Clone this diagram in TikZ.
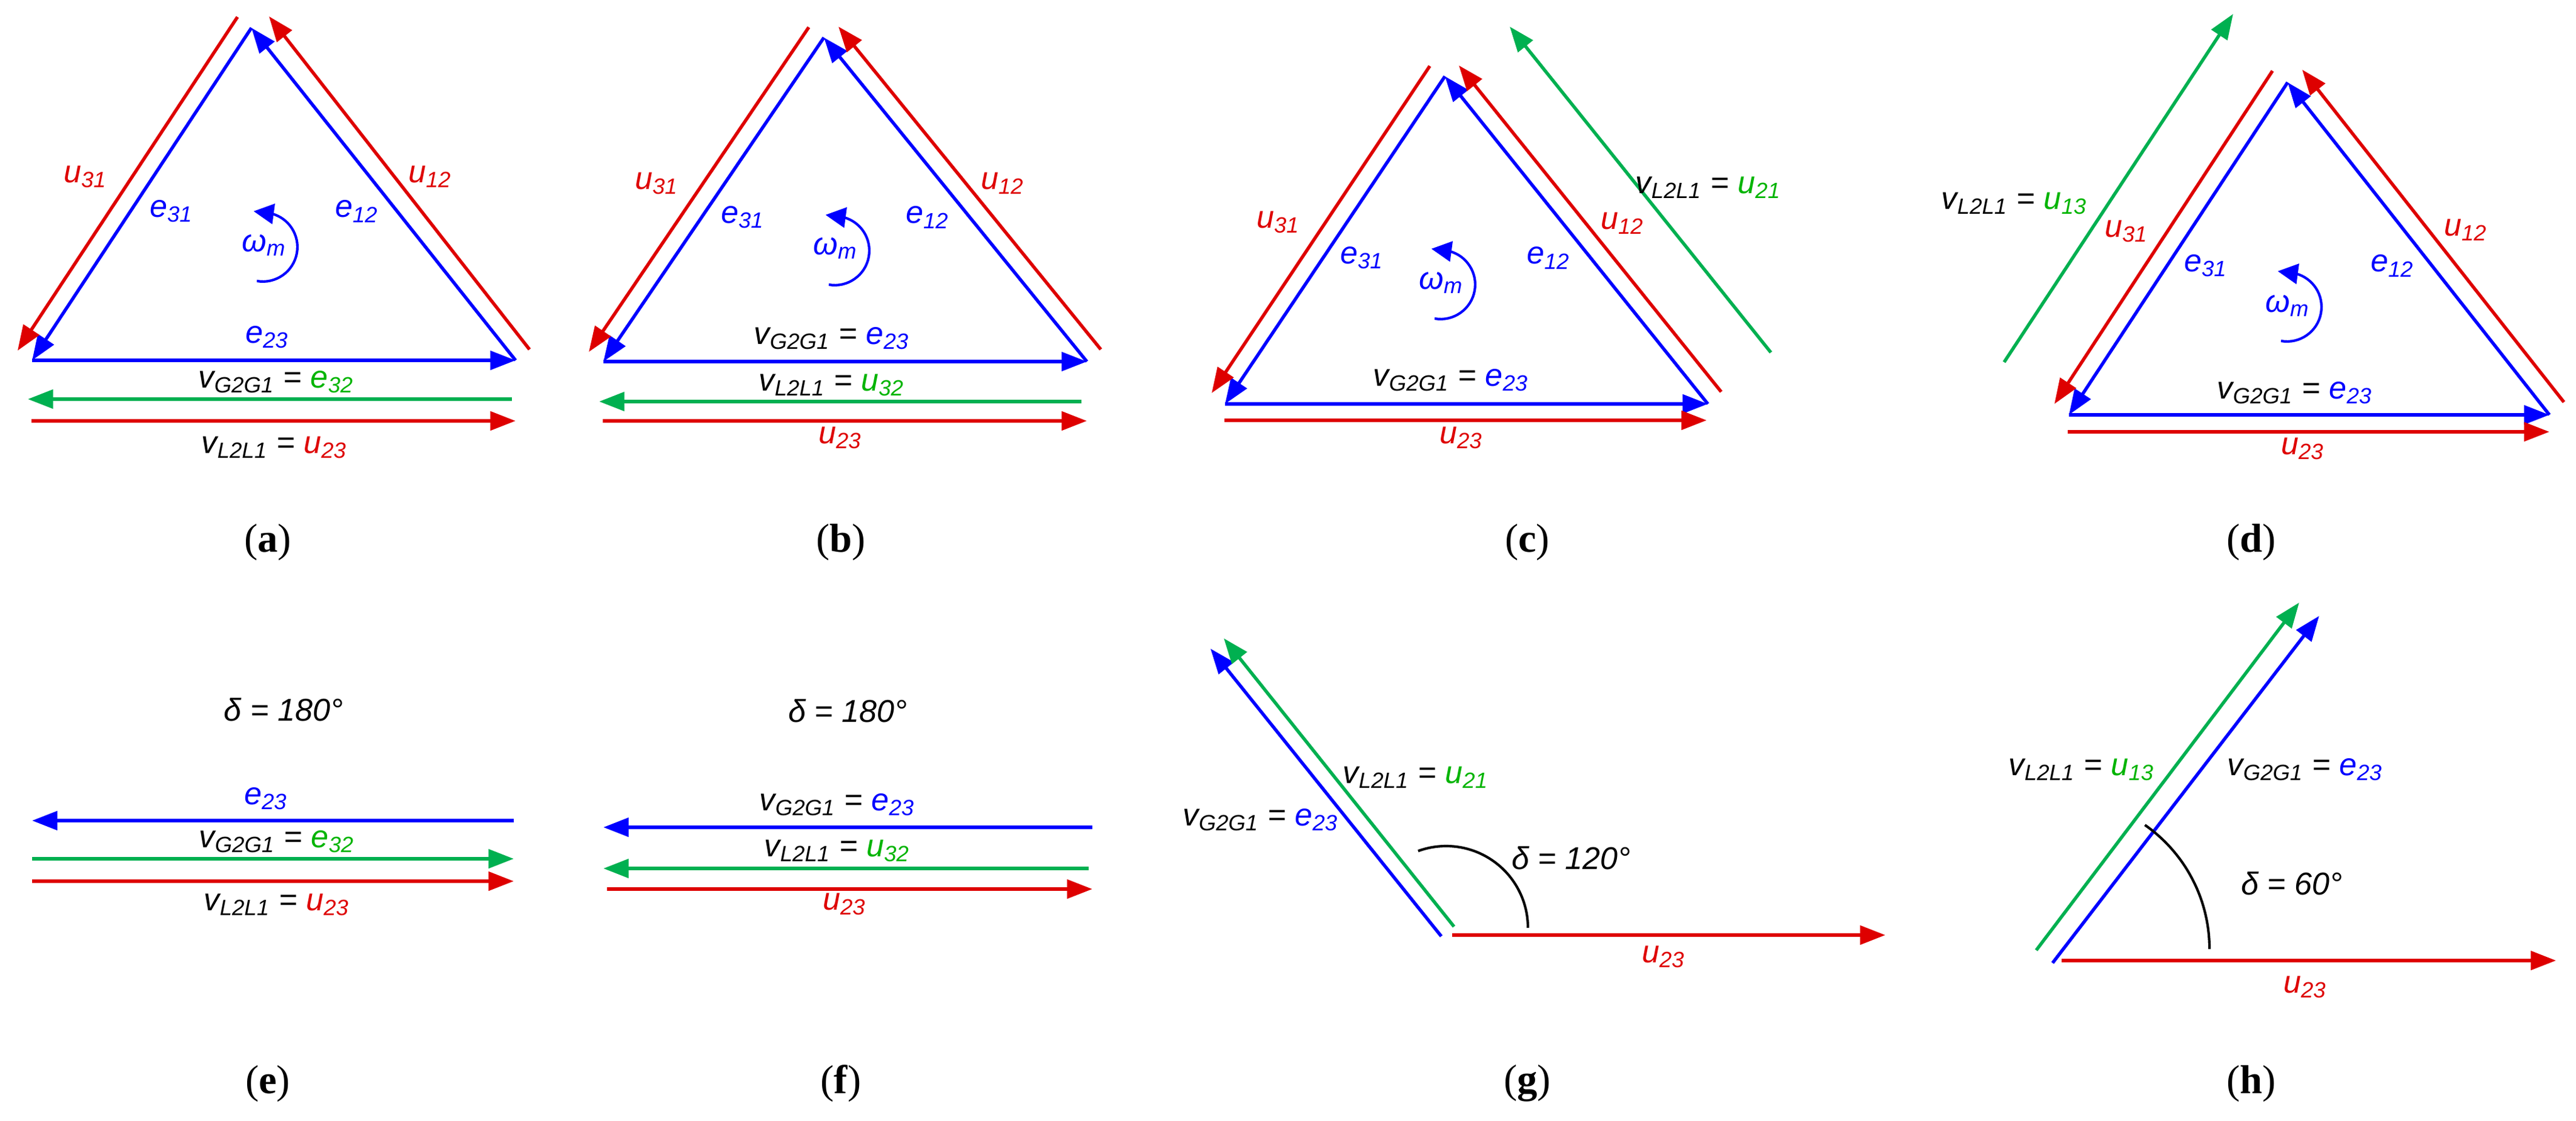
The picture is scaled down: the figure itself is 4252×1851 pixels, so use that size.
\documentclass[tikz,border=0pt]{standalone}
\usepackage{fontspec}
\setmainfont{Liberation Sans}
\newfontfamily\capfont{Liberation Serif}
\usetikzlibrary{arrows.meta, positioning}
\definecolor{vblue}{RGB}{0,0,255}
\definecolor{vred}{RGB}{222,0,0}
\definecolor{vgreen}{RGB}{0,176,80}
\definecolor{tgreen}{RGB}{0,180,0}
\newcommand{\vsub}[2]{\textit{#1}\textsubscript{\textit{#2}}}

\begin{document}
\begin{tikzpicture}[
    x=0.24pt, y=-0.24pt,
    >={Triangle[length=10pt, width=7.4pt]}, % arrowheads
    vec/.style={->, line width=1.3pt, shorten >=0pt},
    blue vec/.style={vec, color=vblue},
    red vec/.style={vec, color=vred},
    green vec/.style={vec, color=vgreen},
    lbl/.style={font=\fontsize{12.5}{14}\selectfont\itshape, inner sep=1pt},
    panel/.style={font=\fontsize{16}{18}\selectfont\capfont},
    spin/.style={->, line width=1pt, color=vblue, >={Triangle[length=8pt, width=8pt]}},
    angle arc/.style={line width=1pt, color=black}
]
    \useasboundingbox (0,0) rectangle (4252,1851);

    % ====== (a) ======
    \coordinate (a1) at (415,46);
    \coordinate (a2) at (53,595);
    \coordinate (a3) at (851,595);
    \coordinate (au31s) at (392,28);   \coordinate (au31e) at (29,579);
    \coordinate (au12s) at (874,577);  \coordinate (au12e) at (444,27);
    \coordinate (ags) at (845,659);    \coordinate (age) at (46,659);
    \coordinate (aus) at (52,695);     \coordinate (aue) at (851,695);
    \draw[blue vec] (a1) -- (a2);
    \draw[blue vec] (a3) -- (a1);
    \draw[blue vec] (a2) -- (a3);
    \draw[red vec] (au31s) -- (au31e);
    \draw[red vec] (au12s) -- (au12e);
    \draw[green vec] (ags) -- (age);
    \draw[red vec] (aus) -- (aue);
    \node[lbl, vred] (a_u31) at (141,292) {\vsub{u}{31}};
    \node[lbl, vblue] (a_e31) at (283,349) {\vsub{e}{31}};
    \node[lbl, vblue] (a_w) at (436,405) {\vsub{ω}{m}};
    \node[lbl, vblue] (a_e12) at (589,349) {\vsub{e}{12}};
    \node[lbl, vred] (a_u12) at (710,292) {\vsub{u}{12}};
    \node[lbl, vblue] (a_e23) at (441,557) {\vsub{e}{23}};
    \node[lbl] (a_vg) at (456,631) {\vsub{v}{G2G1} = \textcolor{tgreen}{\vsub{e}{32}}};
    \node[lbl] (a_vl) at (453,739) {\vsub{v}{L2L1} = \textcolor{vred}{\vsub{u}{23}}};
    \draw[spin] (424,464) arc[start angle=100, end angle=-75, radius=57] -- ++(-30,-4);
    \node[panel] (cap_a) at (442,895) {(\textbf{a})};

    % ====== (b) ======
    \coordinate (b1) at (1360,62);
    \coordinate (b2) at (996,597);
    \coordinate (b3) at (1794,597);
    \coordinate (bu31s) at (1335,45);  \coordinate (bu31e) at (972,581);
    \coordinate (bu12s) at (1817,577); \coordinate (bu12e) at (1384,44);
    \coordinate (bgs) at (1785,663);   \coordinate (bge) at (989,663);
    \coordinate (bus) at (995,695);    \coordinate (bue) at (1794,695);
    \draw[blue vec] (b1) -- (b2);
    \draw[blue vec] (b3) -- (b1);
    \draw[blue vec] (b2) -- (b3);
    \draw[red vec] (bu31s) -- (bu31e);
    \draw[red vec] (bu12s) -- (bu12e);
    \draw[green vec] (bgs) -- (bge);
    \draw[red vec] (bus) -- (bue);
    \node[lbl, vred] (b_u31) at (1084,303) {\vsub{u}{31}};
    \node[lbl, vblue] (b_e31) at (1226,359) {\vsub{e}{31}};
    \node[lbl, vblue] (b_w) at (1379,410) {\vsub{ω}{m}};
    \node[lbl, vblue] (b_e12) at (1531,359) {\vsub{e}{12}};
    \node[lbl, vred] (b_u12) at (1655,303) {\vsub{u}{12}};
    \node[lbl] (b_vg) at (1373,559) {\vsub{v}{G2G1} = \textcolor{vblue}{\vsub{e}{23}}};
    \node[lbl] (b_vl) at (1373,636) {\vsub{v}{L2L1} = \textcolor{tgreen}{\vsub{u}{32}}};
    \node[lbl, vred] (b_u23) at (1387,723) {\vsub{u}{23}};
    \draw[spin] (1368,470) arc[start angle=100, end angle=-75, radius=57] -- ++(-30,-4);
    \node[panel] (cap_b) at (1388,895) {(\textbf{b})};

    % ====== (c) ======
    \coordinate (c1) at (2385,126);
    \coordinate (c2) at (2022,667);
    \coordinate (c3) at (2819,667);
    \coordinate (cu31s) at (2360,109); \coordinate (cu31e) at (2000,649);
    \coordinate (cu12s) at (2841,647); \coordinate (cu12e) at (2408,108);
    \coordinate (cgs) at (2923,582);   \coordinate (cge) at (2492,44);
    \coordinate (cus) at (2021,694);   \coordinate (cue) at (2817,694);
    \draw[blue vec] (c1) -- (c2);
    \draw[blue vec] (c3) -- (c1);
    \draw[blue vec] (c2) -- (c3);
    \draw[red vec] (cu31s) -- (cu31e);
    \draw[red vec] (cu12s) -- (cu12e);
    \draw[green vec] (cgs) -- (cge);
    \draw[red vec] (cus) -- (cue);
    \node[lbl, vred] (c_u31) at (2110,367) {\vsub{u}{31}};
    \node[lbl, vblue] (c_e31) at (2248,426) {\vsub{e}{31}};
    \node[lbl, vblue] (c_w) at (2379,467) {\vsub{ω}{m}};
    \node[lbl, vblue] (c_e12) at (2556,426) {\vsub{e}{12}};
    \node[lbl, vred] (c_u12) at (2678,369) {\vsub{u}{12}};
    \node[lbl] (c_vl) at (2820,310) {\vsub{v}{L2L1} = \textcolor{tgreen}{\vsub{u}{21}}};
    \node[lbl] (c_vg) at (2395,628) {\vsub{v}{G2G1} = \textcolor{vblue}{\vsub{e}{23}}};
    \node[lbl, vred] (c_u23) at (2412,723) {\vsub{u}{23}};
    \draw[spin] (2368,526) arc[start angle=100, end angle=-75, radius=57] -- ++(-30,-4);
    \node[panel] (cap_c) at (2521,895) {(\textbf{c})};

    % ====== (d) ======
    \coordinate (d1) at (3776,136);
    \coordinate (d2) at (3415,685);
    \coordinate (d3) at (4208,685);
    \coordinate (du31s) at (3751,117); \coordinate (du31e) at (3391,667);
    \coordinate (du12s) at (4232,664); \coordinate (du12e) at (3800,115);
    \coordinate (dgs) at (3308,598);   \coordinate (dge) at (3686,23);
    \coordinate (dus) at (3413,713);   \coordinate (due) at (4208,713);
    \draw[blue vec] (d1) -- (d2);
    \draw[blue vec] (d3) -- (d1);
    \draw[blue vec] (d2) -- (d3);
    \draw[red vec] (du31s) -- (du31e);
    \draw[red vec] (du12s) -- (du12e);
    \draw[green vec] (dgs) -- (dge);
    \draw[red vec] (dus) -- (due);
    \node[lbl] (d_vl) at (3325,336) {\vsub{v}{L2L1} = \textcolor{tgreen}{\vsub{u}{13}}};
    \node[lbl, vred] (d_u31) at (3510,382) {\vsub{u}{31}};
    \node[lbl, vblue] (d_e31) at (3641,439) {\vsub{e}{31}};
    \node[lbl, vblue] (d_w) at (3776,505) {\vsub{ω}{m}};
    \node[lbl, vblue] (d_e12) at (3949,439) {\vsub{e}{12}};
    \node[lbl, vred] (d_u12) at (4070,380) {\vsub{u}{12}};
    \node[lbl] (d_vg) at (3788,649) {\vsub{v}{G2G1} = \textcolor{vblue}{\vsub{e}{23}}};
    \node[lbl, vred] (d_u23) at (3801,741) {\vsub{u}{23}};
    \draw[spin] (3765,563) arc[start angle=100, end angle=-75, radius=57] -- ++(-30,-4);
    \node[panel] (cap_d) at (3716,895) {(\textbf{d})};

    % ====== (e) ======
    \coordinate (ebs) at (848,1355);  \coordinate (ebe) at (53,1355);
    \coordinate (egs) at (53,1418);   \coordinate (ege) at (848,1418);
    \coordinate (eus) at (53,1455);   \coordinate (eue) at (848,1455);
    \draw[blue vec] (ebs) -- (ebe);
    \draw[green vec] (egs) -- (ege);
    \draw[red vec] (eus) -- (eue);
    \node[lbl] (e_delta) at (468,1172) {δ = 180°};
    \node[lbl, vblue] (e_e23) at (439,1319) {\vsub{e}{23}};
    \node[lbl] (e_vg) at (457,1390) {\vsub{v}{G2G1} = \textcolor{tgreen}{\vsub{e}{32}}};
    \node[lbl] (e_vl) at (457,1494) {\vsub{v}{L2L1} = \textcolor{vred}{\vsub{u}{23}}};
    \node[panel] (cap_e) at (442,1789) {(\textbf{e})};

    % ====== (f) ======
    \coordinate (fbs) at (1803,1366); \coordinate (fbe) at (996,1366);
    \coordinate (fgs) at (1797,1434); \coordinate (fge) at (996,1434);
    \coordinate (fus) at (1002,1468); \coordinate (fue) at (1803,1468);
    \draw[blue vec] (fbs) -- (fbe);
    \draw[green vec] (fgs) -- (fge);
    \draw[red vec] (fus) -- (fue);
    \node[lbl] (f_delta) at (1399,1174) {δ = 180°};
    \node[lbl] (f_vg) at (1382,1329) {\vsub{v}{G2G1} = \textcolor{vblue}{\vsub{e}{23}}};
    \node[lbl] (f_vl) at (1382,1405) {\vsub{v}{L2L1} = \textcolor{tgreen}{\vsub{u}{32}}};
    \node[lbl, vred] (f_u23) at (1394,1493) {\vsub{u}{23}};
    \node[panel] (cap_f) at (1388,1789) {(\textbf{f})};

    % ====== (g) ======
    \coordinate (gbs) at (2379,1546); \coordinate (gbe) at (1998,1071);
    \coordinate (ggs) at (2400,1530); \coordinate (gge) at (2020,1054);
    \coordinate (gus) at (2397,1544); \coordinate (gue) at (3112,1544);
    \draw[blue vec] (gbs) -- (gbe);
    \draw[green vec] (ggs) -- (gge);
    \draw[red vec] (gus) -- (gue);
    \draw[angle arc] (2522,1532) arc[start angle=0, end angle=-110, radius=135];
    \node[lbl] (g_vl) at (2337,1284) {\vsub{v}{L2L1} = \textcolor{tgreen}{\vsub{u}{21}}};
    \node[lbl] (g_vg) at (2081,1354) {\vsub{v}{G2G1} = \textcolor{vblue}{\vsub{e}{23}}};
    \node[lbl] (g_delta) at (2593,1417) {δ = 120°};
    \node[lbl, vred] (g_u23) at (2746,1580) {\vsub{u}{23}};
    \node[panel] (cap_g) at (2521,1789) {(\textbf{g})};

    % ====== (h) ======
    \coordinate (hbs) at (3388,1590); \coordinate (hbe) at (3828,1017);
    \coordinate (hgs) at (3361,1569); \coordinate (hge) at (3795,995);
    \coordinate (hus) at (3403,1586); \coordinate (hue) at (4219,1586);
    \draw[blue vec] (hbs) -- (hbe);
    \draw[green vec] (hgs) -- (hge);
    \draw[red vec] (hus) -- (hue);
    \draw[angle arc] (3647,1567) arc[start angle=0, end angle=-55, radius=250];
    \node[lbl] (h_vl) at (3436,1271) {\vsub{v}{L2L1} = \textcolor{tgreen}{\vsub{u}{13}}};
    \node[lbl] (h_vg) at (3805,1271) {\vsub{v}{G2G1} = \textcolor{vblue}{\vsub{e}{23}}};
    \node[lbl] (h_delta) at (3783,1459) {δ = 60°};
    \node[lbl, vred] (h_u23) at (3805,1630) {\vsub{u}{23}};
    \node[panel] (cap_h) at (3716,1789) {(\textbf{h})};

\end{tikzpicture}
\end{document}
